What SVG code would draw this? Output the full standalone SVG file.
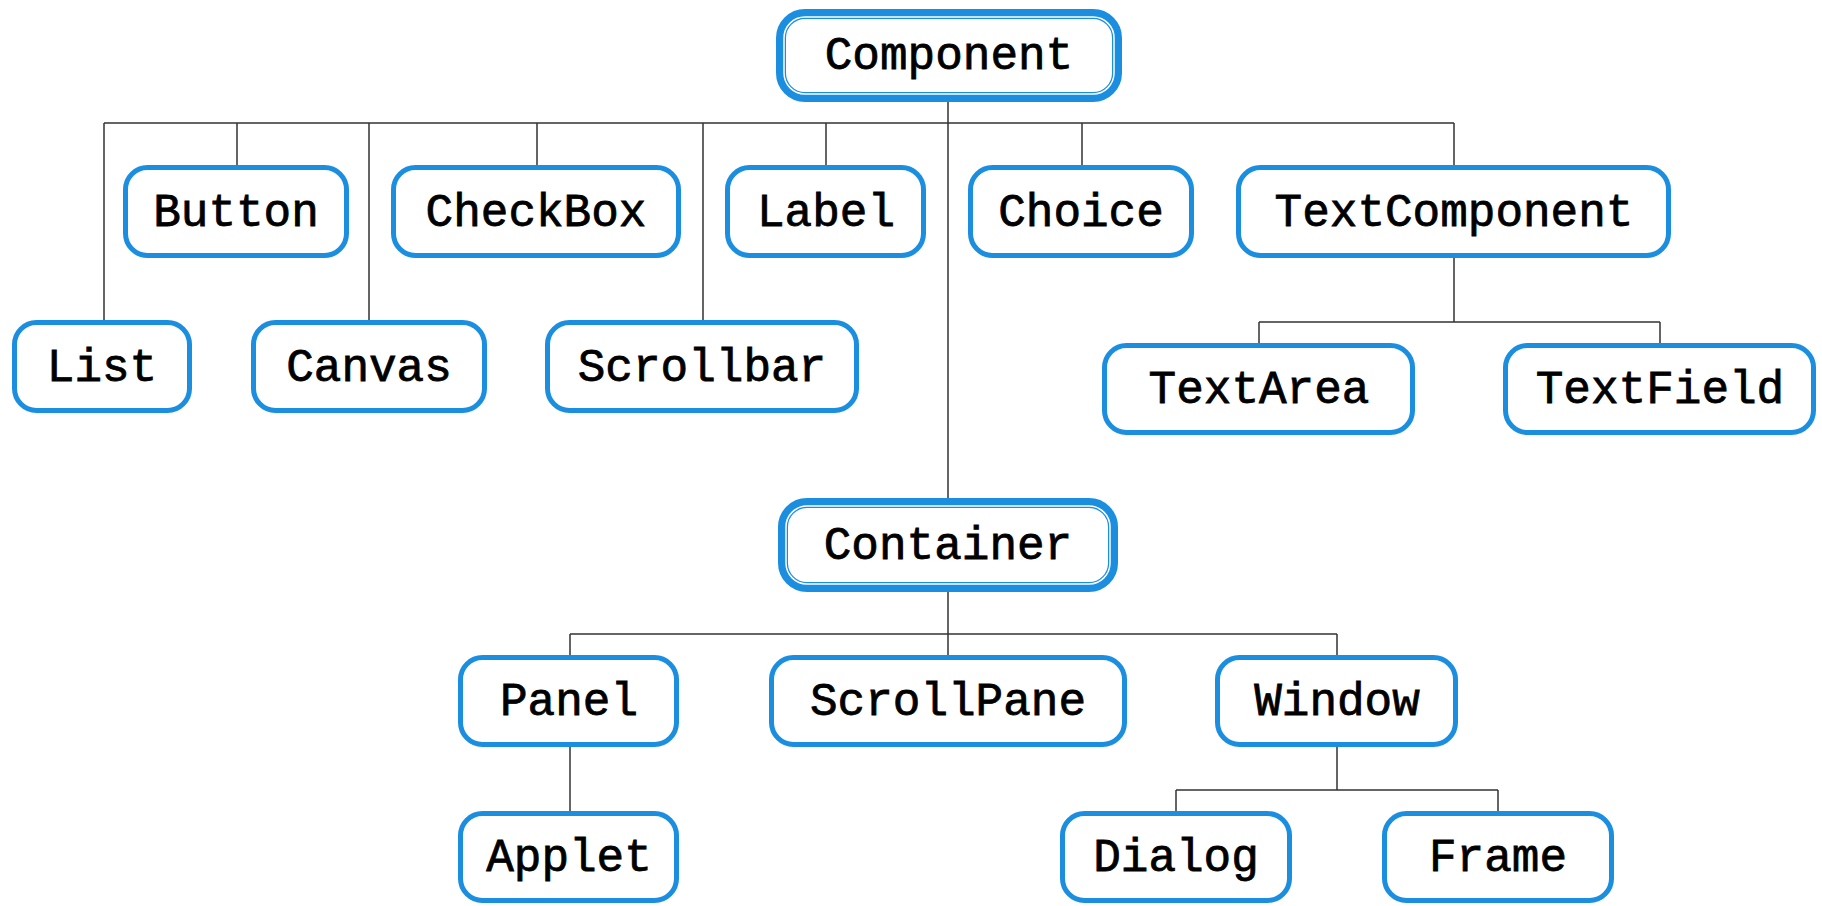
<svg xmlns="http://www.w3.org/2000/svg" width="1822" height="906" viewBox="0 0 1822 906">
<style>
.b{fill:#fff;stroke:#1b8ee0;stroke-width:5}
.bb{fill:#fff;stroke:#1b8ee0;stroke-width:10}
.bw{fill:none;stroke:#fff;stroke-width:1.5}
.t{font-family:"Liberation Mono","Courier New",monospace;font-size:46px;fill:#000;stroke:#000;stroke-width:0.8;text-anchor:middle}
.c{fill:none;stroke:#333;stroke-width:1.5}
</style>
<rect width="1822" height="906" fill="#fff"/>
<g id="connectors">
<path class="c" d="M948 102V498M104 123H1454M104 123V320M237 123V165M369 123V320M537 123V165M703 123V320M826 123V165M1082 123V165M1454 123V165"/>
<path class="c" d="M1454 258V322M1259 322H1660M1259 322V343M1660 322V343"/>
<path class="c" d="M948 592V655M570 634H1337M570 634V655M1337 634V655"/>
<path class="c" d="M570 747V811"/>
<path class="c" d="M1337 747V790M1176 790H1498M1176 790V811M1498 790V811"/>
</g>
<g id="Component"><rect class="bb" x="781" y="14" width="336" height="83" rx="24"/><rect class="bw" x="784" y="17" width="330" height="77" rx="21"/><text class="t" x="949" y="69">Component</text></g>
<g id="Button"><rect class="b" x="125.5" y="167.5" width="221" height="88" rx="22"/><text class="t" x="236" y="226">Button</text></g>
<g id="CheckBox"><rect class="b" x="393.5" y="167.5" width="285" height="88" rx="22"/><text class="t" x="536" y="226">CheckBox</text></g>
<g id="Label"><rect class="b" x="727.5" y="167.5" width="196" height="88" rx="22"/><text class="t" x="826" y="226">Label</text></g>
<g id="Choice"><rect class="b" x="970.5" y="167.5" width="221" height="88" rx="22"/><text class="t" x="1081" y="226">Choice</text></g>
<g id="TextComponent"><rect class="b" x="1238.5" y="167.5" width="430" height="88" rx="22"/><text class="t" x="1454" y="226">TextComponent</text></g>
<g id="List"><rect class="b" x="14.5" y="322.5" width="175" height="88" rx="22"/><text class="t" x="102" y="381">List</text></g>
<g id="Canvas"><rect class="b" x="253.5" y="322.5" width="231" height="88" rx="22"/><text class="t" x="369" y="381">Canvas</text></g>
<g id="Scrollbar"><rect class="b" x="547.5" y="322.5" width="309" height="88" rx="22"/><text class="t" x="702" y="381">Scrollbar</text></g>
<g id="TextArea"><rect class="b" x="1104.5" y="345.5" width="308" height="87" rx="22"/><text class="t" x="1259" y="403">TextArea</text></g>
<g id="TextField"><rect class="b" x="1505.5" y="345.5" width="308" height="87" rx="22"/><text class="t" x="1660" y="403">TextField</text></g>
<g id="Container"><rect class="bb" x="783" y="503" width="330" height="84" rx="24"/><rect class="bw" x="786" y="506" width="324" height="78" rx="21"/><text class="t" x="948" y="559">Container</text></g>
<g id="Panel"><rect class="b" x="460.5" y="657.5" width="216" height="87" rx="22"/><text class="t" x="569" y="715">Panel</text></g>
<g id="ScrollPane"><rect class="b" x="771.5" y="657.5" width="353" height="87" rx="22"/><text class="t" x="948" y="715">ScrollPane</text></g>
<g id="Window"><rect class="b" x="1217.5" y="657.5" width="238" height="87" rx="22"/><text class="t" x="1337" y="715">Window</text></g>
<g id="Applet"><rect class="b" x="460.5" y="813.5" width="216" height="87" rx="22"/><text class="t" x="569" y="871">Applet</text></g>
<g id="Dialog"><rect class="b" x="1062.5" y="813.5" width="227" height="87" rx="22"/><text class="t" x="1176" y="871">Dialog</text></g>
<g id="Frame"><rect class="b" x="1384.5" y="813.5" width="227" height="87" rx="22"/><text class="t" x="1498" y="871">Frame</text></g>
</svg>
